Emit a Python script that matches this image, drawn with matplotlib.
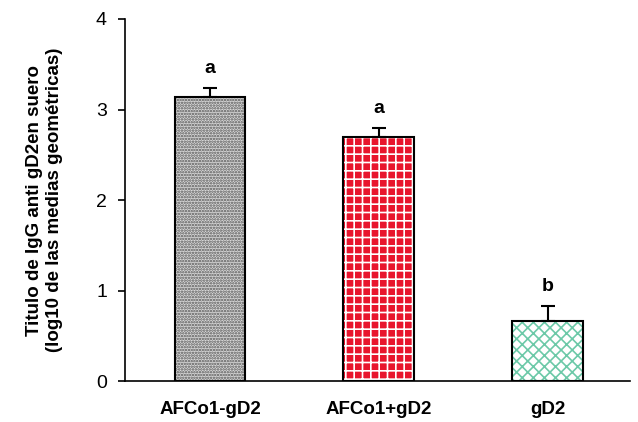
import matplotlib
matplotlib.use("Agg")
import matplotlib.pyplot as plt
import numpy as np

plt.rcParams['font.family'] = ['Liberation Sans', 'DejaVu Sans']
plt.rcParams['hatch.linewidth'] = 1.2

groups = ["AFCo1-gD2", "AFCo1+gD2", "gD2"]
means = [3.14, 2.70, 0.66]
errors = [0.10, 0.10, 0.17]
letters = ["a", "a", "b"]

face_colors = ["#d9d9d9", "#e8152d", "white"]
hatch_colors = ["#555555", "white", "#6cc9a8"]
hatches = ["......", "++", "xxx"]

fig = plt.figure(figsize=(6.38, 4.22), dpi=100)
ax = fig.add_axes([0.196, 0.097, 0.791, 0.858])

x = np.arange(len(groups))
width = 0.42
for i in range(len(groups)):
    ax.bar(x[i], means[i], width, color=face_colors[i], edgecolor=hatch_colors[i],
           hatch=hatches[i], linewidth=0, zorder=2)
ax.bar(x, means, width, fill=False, edgecolor="black", linewidth=1.5, zorder=3)

ax.errorbar(x, means, yerr=[np.zeros(len(errors)), errors], fmt="none",
            ecolor="black", elinewidth=1.5, capsize=5, capthick=1.5, zorder=4)

for i in range(len(groups)):
    ax.text(x[i], means[i] + errors[i] + 0.12, letters[i], ha="center", va="bottom",
            fontsize=14, fontweight="bold")

ax.set_xlim(-0.503, 2.485)
ax.set_ylim(0, 4)
ax.set_yticks([0, 1, 2, 3, 4])
ax.set_xticks(x)
ax.set_xticklabels(groups, fontsize=13.5, fontweight="bold")
ax.tick_params(axis="x", length=0, pad=14)
ax.tick_params(axis="y", labelsize=14, length=5, width=1.2, pad=8)
ax.spines["top"].set_visible(False)
ax.spines["right"].set_visible(False)
ax.spines["left"].set_linewidth(1.2)
ax.spines["bottom"].set_linewidth(1.2)
ax.set_ylabel("Titulo de IgG anti gD2en suero\n(log10 de las medias geométricas)",
              fontsize=13.5, fontweight="bold", labelpad=24)

fig.savefig("out.png", dpi=100)
